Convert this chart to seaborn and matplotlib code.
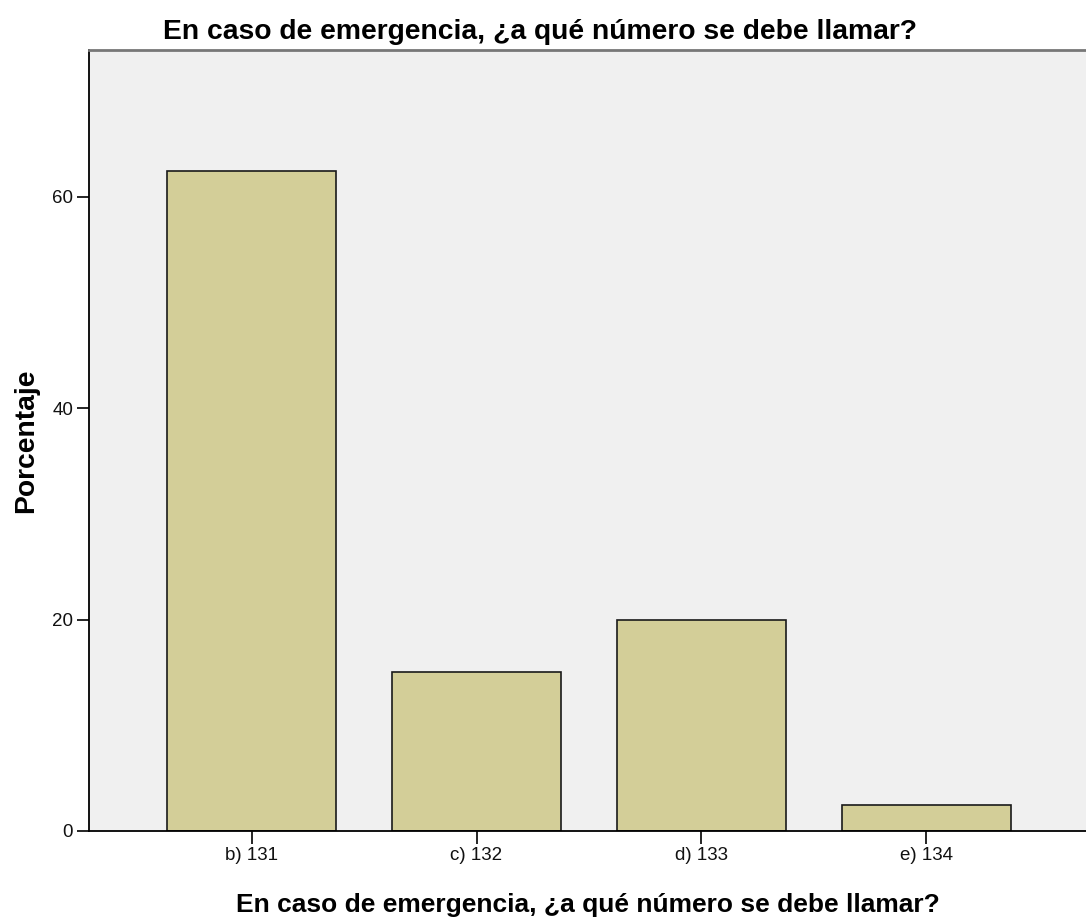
import matplotlib
matplotlib.use("Agg")
import matplotlib.pyplot as plt
import seaborn as sns
import pandas as pd

# values
categories = ["b) 131", "c) 132", "d) 133", "e) 134"]
percentages = [62.5, 15.0, 20.0, 2.5]
y_ticks = [0, 20, 40, 60]

title = "En caso de emergencia, ¿a qué número se debe llamar?"

sns.set_theme(style="white")
plt.rcParams["font.family"] = ["Liberation Sans", "DejaVu Sans"]

df = pd.DataFrame({"respuesta": categories, "porcentaje": percentages})

fig = plt.figure(figsize=(10.86, 9.22), dpi=100)
ax = fig.add_axes([0.082, 0.0987, 0.918, 0.847])
ax.set_facecolor("#F0F0F0")

sns.barplot(data=df, x="respuesta", y="porcentaje", color="#D3CE98",
            saturation=1, width=0.75, edgecolor="#1a1a1a", linewidth=1.2, ax=ax)

ax.set_xlim(-0.723, 3.71)
ax.set_ylim(0, 73.9)
ax.set_yticks(y_ticks)

# SPSS centres the title on the whole chart, the x label on the axis
ax.set_title(title, fontsize=20.3, fontweight="bold", color="black", x=0.452, pad=8)
ax.set_xlabel(title, fontsize=19, fontweight="bold", color="black", labelpad=21)
ax.set_ylabel("Porcentaje", fontsize=20.3, fontweight="bold", color="black", labelpad=9)

ax.tick_params(axis="both", which="major", direction="out", length=9, width=1.2,
               color="black", labelcolor="#111111", labelsize=13.5,
               bottom=True, left=True, pad=2.5)

for side in ["left", "bottom"]:
    ax.spines[side].set_color("black")
    ax.spines[side].set_linewidth(1.3)
ax.spines["top"].set_color("#777777")
ax.spines["top"].set_linewidth(2)
ax.spines["right"].set_visible(False)

fig.savefig("out.png", dpi=100)
